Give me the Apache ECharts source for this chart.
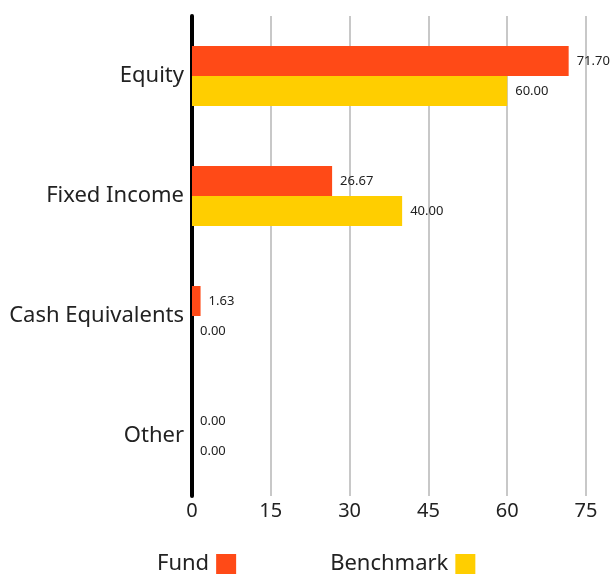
<!DOCTYPE html>
<html><head><meta charset="utf-8">
<script src="https://cdn.jsdelivr.net/npm/echarts@6/dist/echarts.min.js"></script>
<style>html,body{margin:0;padding:0;background:#fff}#c{width:614px;height:575px}</style>
</head><body><div id="c"></div>
<script>
const categories = ["Equity", "Fixed Income", "Cash Equivalents", "Other"];
const fundValues = [71.70, 26.67, 1.63, 0.00];
const benchmarkValues = [60.00, 40.00, 0.00, 0.00];
const seriesNames = ["Fund", "Benchmark"];
const xTicks = { min: 0, max: 75, interval: 15 };

const font = "Noto Sans";
const chart = echarts.init(document.getElementById('c'));
const lbl = { show: true, position: 'right', distance: 8, fontFamily: font, fontSize: 13, color: '#222', formatter: p => p.value.toFixed(2) };
chart.setOption({
  animation: false,
  grid: { left: 192, right: 28, top: 16, bottom: 79, containLabel: false },
  legend: {
    left: 152, top: 548, itemWidth: 20, itemHeight: 20, itemGap: 94, align: 'right',
    icon: 'rect', textStyle: { fontFamily: font, fontSize: 22, color: '#222', padding: [0, 2, 0, 0] },
    data: seriesNames
  },
  xAxis: {
    type: 'value', min: xTicks.min, max: xTicks.max, interval: xTicks.interval,
    axisLine: { show: false }, axisTick: { show: false },
    splitLine: { show: true, lineStyle: { color: '#c8c8c8', width: 2 } },
    axisLabel: { fontFamily: font, fontSize: 20, color: '#222', margin: 5 }
  },
  yAxis: {
    type: 'category', inverse: true, data: categories,
    axisLine: { show: true, lineStyle: { color: '#000', width: 4 } },
    axisTick: { show: false },
    axisLabel: { fontFamily: font, fontSize: 22, color: '#222', margin: 8 }
  },
  series: [
    { name: seriesNames[0], type: 'bar', data: fundValues, barWidth: 30, barGap: '0%', itemStyle: { color: '#FF4A17' }, label: lbl },
    { name: seriesNames[1], type: 'bar', data: benchmarkValues, barWidth: 30, barGap: '0%', itemStyle: { color: '#FFCE00' }, label: lbl }
  ]
});
</script></body></html>
